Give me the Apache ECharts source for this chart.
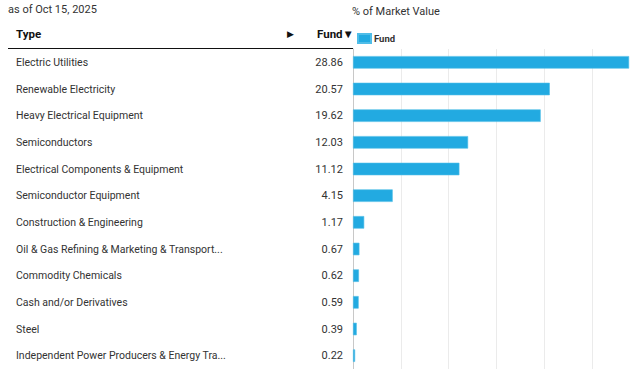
<!DOCTYPE html>
<html>
<head>
<meta charset="utf-8">
<script src="https://cdn.jsdelivr.net/npm/echarts@6/dist/echarts.min.js"></script>
<style>
html,body{margin:0;padding:0;background:#fff;}
#c{width:640px;height:369px;}
</style>
</head>
<body>
<div id="c"></div>
<script>
const categories = [
  "Electric Utilities",
  "Renewable Electricity",
  "Heavy Electrical Equipment",
  "Semiconductors",
  "Electrical Components & Equipment",
  "Semiconductor Equipment",
  "Construction & Engineering",
  "Oil & Gas Refining & Marketing & Transport...",
  "Commodity Chemicals",
  "Cash and/or Derivatives",
  "Steel",
  "Independent Power Producers & Energy Tra..."
];
const fundValues = [28.86, 20.57, 19.62, 12.03, 11.12, 4.15, 1.17, 0.67, 0.62, 0.59, 0.39, 0.22];
const xTicks = [0, 5, 10, 15, 20, 25, 30];
const dateLabel = "as of Oct 15, 2025";
const axisTitle = "% of Market Value";

const FONT = "Roboto";
const chart = echarts.init(document.getElementById('c'), null, {renderer: 'svg'});
chart.setOption({
  animation: false,
  backgroundColor: '#fff',
  textStyle: {fontFamily: FONT},
  title: [
    {text: dateLabel, left: 8, top: 4, padding: 0, textStyle: {fontSize: 11, fontWeight: 'normal', color: '#333', fontFamily: FONT}},
    {text: axisTitle, left: 352, top: 6, padding: 0, textStyle: {fontSize: 11, fontWeight: 'normal', color: '#333', fontFamily: FONT}}
  ],
  legend: {
    left: 357, top: 33, padding: 0, itemWidth: 13, itemHeight: 9, itemGap: 4,
    data: ['Fund'],
    icon: 'rect',
    textStyle: {fontSize: 9.5, fontWeight: 'bold', color: '#333', fontFamily: FONT, padding: [0,0,0,-2]}
  },
  graphic: [
    {type: 'text', left: 16, top: 28, style: {text: 'Type', font: 'bold 11.5px ' + FONT, fill: '#111'}},
    {type: 'text', left: 287, top: 29, style: {text: '▶', font: '9px ' + FONT, fill: '#111'}},
    {type: 'text', left: 317, top: 28, style: {text: 'Fund▼', font: 'bold 11.5px ' + FONT, fill: '#111'}},
    {type: 'line', shape: {x1: 8, y1: 48.5, x2: 353, y2: 48.5}, style: {stroke: '#111', lineWidth: 1.2}}
  ],
  grid: {left: 353, top: 49, width: 290, height: 321, containLabel: false},
  xAxis: {
    type: 'value', min: xTicks[0], max: xTicks[xTicks.length - 1], interval: 5,
    axisLabel: {show: false}, axisTick: {show: false}, axisLine: {show: false},
    splitLine: {show: true, lineStyle: {color: '#ebebeb', width: 1}}
  },
  yAxis: [
    {
      type: 'category', data: categories, inverse: true,
      axisLine: {show: true, lineStyle: {color: '#c8c8c8', width: 1}},
      axisTick: {show: false},
      axisLabel: {align: 'left', margin: 337, fontSize: 10.5, color: '#333', fontFamily: FONT}
    },
    {
      type: 'category', data: fundValues.map(v => v.toFixed(2)), inverse: true, position: 'left',
      axisLine: {show: false}, axisTick: {show: false},
      axisLabel: {align: 'right', margin: 10, fontSize: 11, color: '#333', fontFamily: FONT}
    }
  ],
  series: [{
    name: 'Fund', type: 'bar', data: fundValues, yAxisIndex: 0,
    barWidth: 12.5,
    itemStyle: {color: '#22AAE1', borderColor: '#4FBDE8', borderWidth: 0.6}
  }]
});
</script>
</body>
</html>
